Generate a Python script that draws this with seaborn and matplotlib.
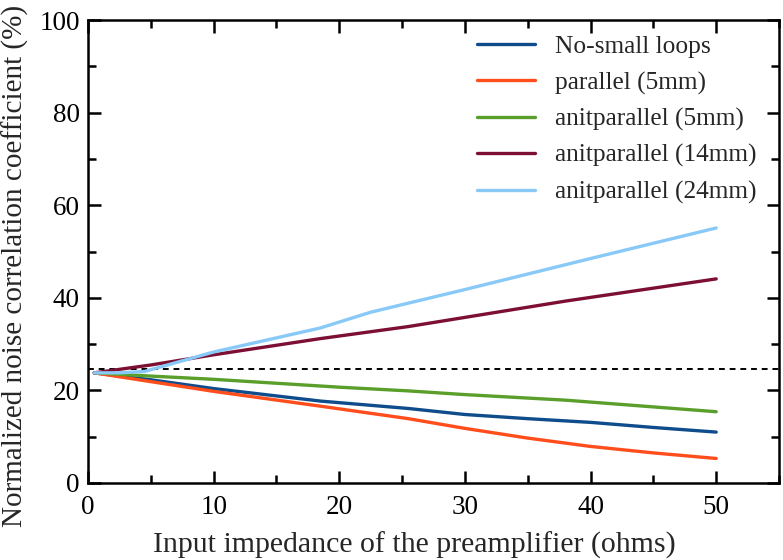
import matplotlib
matplotlib.use("Agg")
import matplotlib.pyplot as plt
import seaborn as sns
import pandas as pd
from matplotlib.ticker import MultipleLocator

# Data
x_no_small = [0.5, 5, 10, 18.5, 25.5, 30, 35, 40, 45, 50]
y_no_small = [23.8, 22.3, 20.4, 17.7, 16.1, 14.8, 13.9, 13.1, 12.0, 11.0]

x_par5 = [0.5, 5, 10, 18.5, 25.5, 30, 35, 40, 45, 50]
y_par5 = [23.8, 21.9, 19.8, 16.6, 13.9, 11.8, 9.7, 7.9, 6.5, 5.3]

x_anti5 = [0.5, 5, 10, 20, 25.5, 30, 38, 50]
y_anti5 = [23.8, 23.1, 22.4, 20.7, 19.9, 19.1, 17.9, 15.4]

x_anti14 = [0.5, 5, 10, 18.5, 25.5, 38, 50]
y_anti14 = [23.8, 25.5, 27.7, 31.2, 33.8, 39.3, 44.1]

x_anti24 = [0.5, 2.5, 4.5, 10, 18.5, 22.5, 30, 40, 50]
y_anti24 = [23.8, 23.8, 24.1, 28.3, 33.5, 36.9, 41.8, 48.5, 55.1]

labels = ["No-small loops", "parallel (5mm)", "anitparallel (5mm)",
          "anitparallel (14mm)", "anitparallel (24mm)"]
colors = ["#0E4C8C", "#FF4D1C", "#5A9F2A", "#7C0F33", "#89C9F8"]
ref_level = 24.7

xs = [x_no_small, x_par5, x_anti5, x_anti14, x_anti24]
ys = [y_no_small, y_par5, y_anti5, y_anti14, y_anti24]
frames = [pd.DataFrame({"x": xv, "y": yv, "series": lab}) for xv, yv, lab in zip(xs, ys, labels)]
df = pd.concat(frames, ignore_index=True)

sns.set_theme(style="ticks")
plt.rcParams["font.family"] = ["Liberation Serif", "DejaVu Serif"]

fig = plt.figure(figsize=(7.83, 5.60), dpi=100)
ax = fig.add_axes([0.1124, 0.1375, 0.8825, 0.8265])

sns.lineplot(data=df, x="x", y="y", hue="series", hue_order=labels,
             palette=dict(zip(labels, colors)), linewidth=2.4, sort=False,
             estimator=None, ax=ax)
ax.axhline(ref_level, color="black", linestyle=(0, (3, 2.5)), linewidth=1.4, zorder=1)

ax.set_xlim(0, 55)
ax.set_ylim(0, 100)
ax.xaxis.set_major_locator(MultipleLocator(10))
ax.xaxis.set_minor_locator(MultipleLocator(5))
ax.yaxis.set_major_locator(MultipleLocator(20))
ax.yaxis.set_minor_locator(MultipleLocator(10))
ax.set_xticks([0, 10, 20, 30, 40, 50])

ax.tick_params(which="both", direction="in", top=True, right=True, width=1.8,
               labelsize=19.5, colors="black")
ax.tick_params(axis="x", which="both", pad=9)
ax.tick_params(axis="y", which="both", pad=6)
ax.tick_params(which="major", length=9)
ax.tick_params(which="minor", length=6)
for s in ax.spines.values():
    s.set_linewidth(1.8)
    s.set_color("black")

ax.set_xlabel("Input impedance of the preamplifier (ohms)", fontsize=21.5)
ax.set_ylabel("Normalized noise correlation coefficient (%)", fontsize=21)
ax.xaxis.set_label_coords(0.473, -0.105)
ax.yaxis.set_label_coords(-0.085, 0.468)

leg = ax.legend(loc="upper right", frameon=False, fontsize=18.3, handlelength=2.3,
                handletextpad=0.8, labelspacing=0.52, borderaxespad=0.2,
                bbox_to_anchor=(0.99, 1.0))
for h in leg.get_lines():
    h.set_linewidth(2.4)

fig.savefig("out.png", dpi=100)
